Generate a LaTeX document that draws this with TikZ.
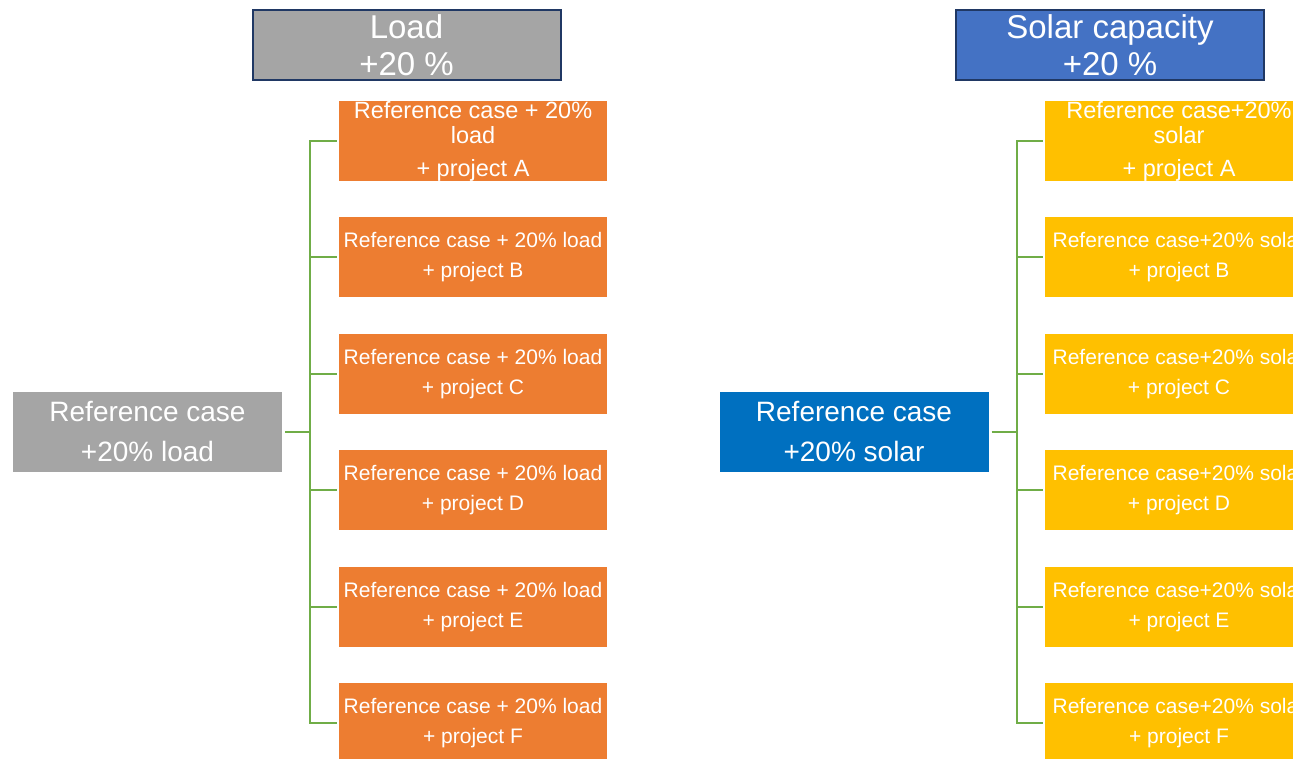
\documentclass[tikz,border=0pt]{standalone}
\usepackage{fontspec}
\setmainfont{Liberation Sans}
\definecolor{hdrgray}{HTML}{A5A5A5}
\definecolor{hdrblue}{HTML}{4472C4}
\definecolor{hdrline}{HTML}{203864}
\definecolor{rootblue}{HTML}{0070C0}
\definecolor{loadorange}{HTML}{ED7D31}
\definecolor{solaramber}{HTML}{FFC000}
\definecolor{linkgreen}{HTML}{70AD47}
\tikzset{
  header/.style={draw=hdrline, line width=2pt, minimum width=308pt, minimum height=70pt,
    inner sep=0pt, outer sep=0pt, text=white, align=center,
    font=\fontsize{33}{37}\selectfont},
  rootbox/.style={minimum width=269pt, minimum height=80pt, inner sep=0pt, outer sep=0pt,
    text=white, align=center, font=\fontsize{28}{40}\selectfont},
  leaf/.style={minimum width=268pt, minimum height=80pt, inner sep=0pt, outer sep=0pt,
    text=white, align=center, font=\fontsize{21}{30}\selectfont},
  loadleaf/.style={leaf, fill=loadorange},
  solarleaf/.style={leaf, fill=solaramber},
  wraptext/.style={inner sep=0pt, text=white, align=center, font=\fontsize{23.5}{25}\selectfont},
  conn/.style={draw=linkgreen, line width=2pt},
}
\begin{document}
\begin{tikzpicture}[x=1pt, y=-1pt]
  \useasboundingbox (0,0) rectangle (1293,759);
  \clip (0,0) rectangle (1293,759);

  % column headers
  \node[header, fill=hdrgray] (lhead) at (406.5,45) {Load\\+20 \%};
  \node[header, fill=hdrblue] (shead) at (1110,45) {Solar capacity\\+20 \%};

  % roots
  \node[rootbox, fill=hdrgray] (lroot) at (147.5,432) {Reference case\\+20\% load};
  \node[rootbox, fill=rootblue] (sroot) at (854,432) {Reference case\\+20\% solar};

  % load branch
  \node[loadleaf] (la) at (473,141) {};
  \node[wraptext] (la-text) at (la.center) {Reference case + 20\%\\load\\[8pt]+ project A};
  \node[loadleaf] (lb) at (473,257) {Reference case + 20\% load\\+ project B};
  \node[loadleaf] (lc) at (473,374) {Reference case + 20\% load\\+ project C};
  \node[loadleaf] (ld) at (473,490) {Reference case + 20\% load\\+ project D};
  \node[loadleaf] (le) at (473,607) {Reference case + 20\% load\\+ project E};
  \node[loadleaf] (lf) at (473,723) {Reference case + 20\% load\\+ project F};

  % solar branch
  \node[solarleaf] (sa) at (1179,141) {};
  \node[wraptext] (sa-text) at (sa.center) {Reference case+20\%\\solar\\[8pt]+ project A};
  \node[solarleaf] (sb) at (1179,257) {Reference case+20\% solar\\+ project B};
  \node[solarleaf] (sc) at (1179,374) {Reference case+20\% solar\\+ project C};
  \node[solarleaf] (sd) at (1179,490) {Reference case+20\% solar\\+ project D};
  \node[solarleaf] (se) at (1179,607) {Reference case+20\% solar\\+ project E};
  \node[solarleaf] (sf) at (1179,723) {Reference case+20\% solar\\+ project F};

  % connector buses
  \coordinate (lbus) at (310,432);
  \coordinate (sbus) at (1017,432);
  \draw[conn, shorten <=3pt] (lroot.east) -- (lbus);
  \draw[conn, shorten <=3pt] (sroot.east) -- (sbus);
  \foreach \c in {la,lb,lc,ld,le,lf}
    \draw[conn, shorten >=2pt] (lbus) |- (\c.west);
  \foreach \c in {sa,sb,sc,sd,se,sf}
    \draw[conn, shorten >=2pt] (sbus) |- (\c.west);
\end{tikzpicture}
\end{document}
